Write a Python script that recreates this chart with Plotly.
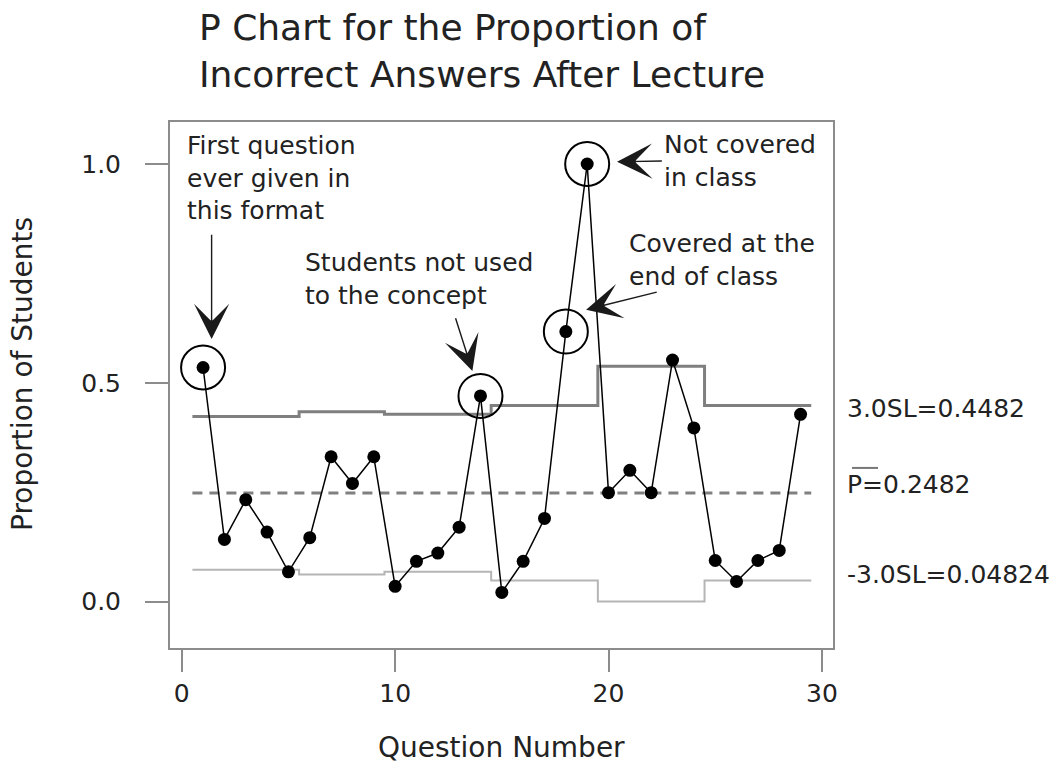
import plotly.graph_objects as go

# ---- data ----
questions = list(range(1, 30))
proportion = [0.535, 0.142, 0.233, 0.159, 0.068, 0.146, 0.331, 0.270, 0.331, 0.035,
              0.092, 0.111, 0.170, 0.470, 0.021, 0.092, 0.190, 0.617, 1.000, 0.249,
              0.300, 0.249, 0.552, 0.397, 0.094, 0.046, 0.094, 0.117, 0.428]
ucl = [0.423] * 5 + [0.434] * 4 + [0.428] * 5 + [0.4482] * 5 + [0.538] * 5 + [0.4482] * 5
lcl = [0.073] * 5 + [0.062] * 4 + [0.068] * 5 + [0.0482] * 5 + [0.0] * 5 + [0.04824] * 5
center = 0.2482
circled = [1, 14, 18, 19]
x_ticks = [0, 10, 20, 30]
y_ticks = [0.0, 0.5, 1.0]

FONT = "DejaVu Sans"
TXT = "#222222"


def steps(vals):
    xs, ys = [], []
    for q, v in zip(questions, vals):
        xs += [q - 0.5, q + 0.5]
        ys += [v, v]
    return xs, ys


fig = go.Figure()
ux, uy = steps(ucl)
lx, ly = steps(lcl)
fig.add_trace(go.Scatter(x=ux, y=uy, mode="lines", line=dict(color="#7f7f7f", width=3),
                         hoverinfo="skip", showlegend=False))
fig.add_trace(go.Scatter(x=lx, y=ly, mode="lines", line=dict(color="#b5b5b5", width=2),
                         hoverinfo="skip", showlegend=False))
fig.add_trace(go.Scatter(x=[questions[0] - 0.5, questions[-1] + 0.5], y=[center, center],
                         mode="lines", line=dict(color="#808080", width=3, dash="10px,7px"),
                         hoverinfo="skip", showlegend=False))
fig.add_trace(go.Scatter(x=questions, y=proportion, mode="lines+markers",
                         line=dict(color="black", width=1.5),
                         marker=dict(color="black", size=13), showlegend=False))
fig.add_trace(go.Scatter(x=circled, y=[proportion[q - 1] for q in circled], mode="markers",
                         marker=dict(symbol="circle-open", size=44, color="black",
                                     line=dict(width=2, color="black")),
                         showlegend=False, hoverinfo="skip"))

ann = []
# Title
ann.append(dict(text="P Chart for the Proportion of<br>Incorrect Answers After Lecture",
                xref="paper", yref="paper", x=0.0407, y=1.135, xanchor="left", yanchor="middle",
                align="left", showarrow=False, font=dict(family=FONT, size=36, color=TXT)))
# y axis title
ann.append(dict(text="Proportion of Students", xref="paper", yref="paper", x=-0.2217, y=0.521,
                textangle=-90, showarrow=False, xanchor="center", yanchor="middle",
                font=dict(family=FONT, size=28, color=TXT)))
# x axis title
ann.append(dict(text="Question Number", xref="paper", yref="paper", x=0.5, y=-0.19,
                showarrow=False, xanchor="center", yanchor="middle",
                font=dict(family=FONT, size=28, color=TXT)))

# in-plot notes
notes = [
    ("First question<br>ever given in<br>this format", 0.15, 0.968),
    ("Students not used<br>to the concept", 5.70, 0.737),
    ("Not covered<br>in class", 22.5, 1.006),
    ("Covered at the<br>end of class", 20.86, 0.781),
]
for t, x, y in notes:
    ann.append(dict(text=t, x=x, y=y, xref="x", yref="y", xanchor="left", yanchor="middle",
                    align="left", showarrow=False, font=dict(family=FONT, size=25, color=TXT)))

arrows = [
    ((1.40, 0.842), (1.40, 0.600)),
    ((12.81, 0.651), (13.62, 0.527)),
    ((22.57, 1.007), (20.4, 1.005)),
    ((22.33, 0.708), (18.95, 0.667)),
]
for (tx, ty), (hx, hy) in arrows:
    ann.append(dict(text="", x=hx, y=hy, ax=tx, ay=ty, xref="x", yref="y", axref="x", ayref="y",
                    showarrow=True, arrowhead=3, arrowsize=4.2, arrowwidth=1.4,
                    arrowcolor="#1a1a1a", standoff=0))

# right-side limit labels
side = [("3.0SL=0.4482", 0.442), ("P=0.2482", 0.268), ("-3.0SL=0.04824", 0.061)]
for t, y in side:
    ann.append(dict(text=t, xref="paper", yref="y", x=1.0185, y=y, xanchor="left",
                    yanchor="middle", showarrow=False,
                    font=dict(family=FONT, size=25, color=TXT)))

fig.update_layout(
    width=1061, height=763,
    margin=dict(l=170, r=228, t=122, b=115),
    paper_bgcolor="white", plot_bgcolor="white",
    annotations=ann,
    shapes=[dict(type="line", xref="paper", yref="y", x0=1.0287, x1=1.0679, y0=0.3055, y1=0.3055,
                 line=dict(color="#777777", width=2))],
    showlegend=False,
)
fig.update_xaxes(range=[-0.55, 30.52], tickvals=x_ticks, ticks="outside", ticklen=22,
                 tickwidth=2, tickcolor="#8c8c8c", showline=True, linecolor="#8c8c8c",
                 linewidth=2, mirror=True, showgrid=False, zeroline=False, automargin=False,
                 tickfont=dict(family=FONT, size=25, color=TXT), ticklabelstandoff=0)
fig.update_yaxes(range=[-0.106, 1.096], tickvals=y_ticks, tickformat=".1f", ticks="outside",
                 ticklen=23, tickwidth=2, tickcolor="#8c8c8c", showline=True, automargin=False,
                 linecolor="#8c8c8c", linewidth=2, mirror=True, showgrid=False, zeroline=False,
                 tickfont=dict(family=FONT, size=25, color=TXT), ticklabelstandoff=19)

fig.write_html("out.html", config={"displayModeBar": False},
               post_script="document.body.style.margin='0px';document.body.style.overflow='hidden';")
